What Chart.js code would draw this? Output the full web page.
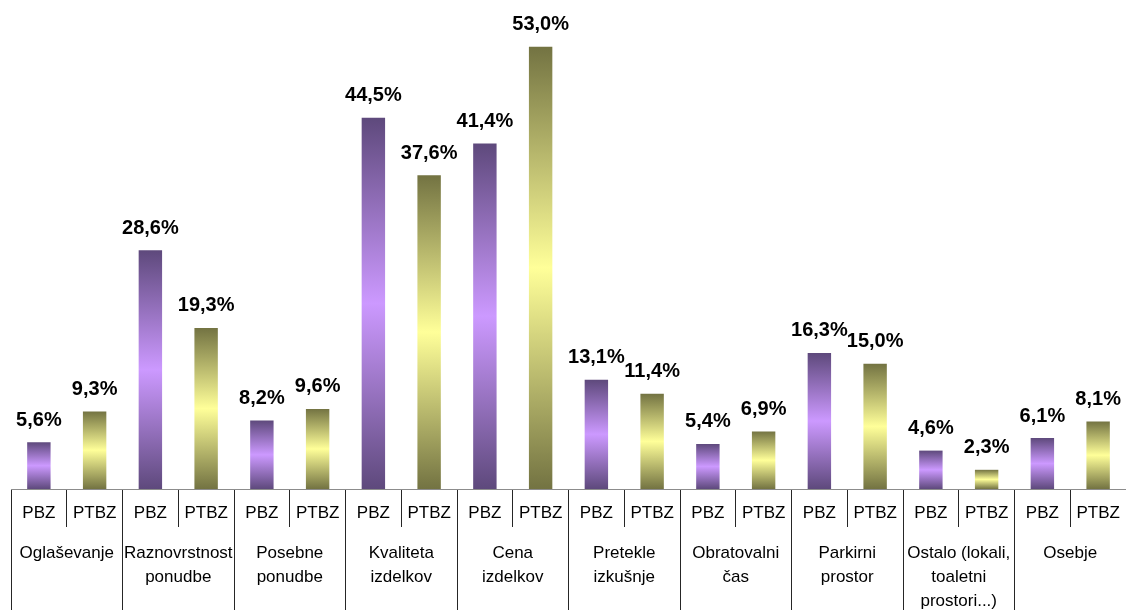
<!DOCTYPE html>
<html>
<head>
<meta charset="utf-8">
<script src="https://cdn.jsdelivr.net/npm/chart.js@4"></script>
<style>
  html, body { margin: 0; padding: 0; background: #ffffff; }
  #wrap { width: 1126px; height: 610px; }
</style>
</head>
<body>
<div id="wrap"><canvas id="chart" width="1126" height="610"></canvas></div>
<script>
// Categories (multi-line labels for the lower axis row)
const categories = [
  ['Oglaševanje'],
  ['Raznovrstnost', 'ponudbe'],
  ['Posebne', 'ponudbe'],
  ['Kvaliteta', 'izdelkov'],
  ['Cena', 'izdelkov'],
  ['Pretekle', 'izkušnje'],
  ['Obratovalni', 'čas'],
  ['Parkirni', 'prostor'],
  ['Ostalo (lokali,', 'toaletni', 'prostori...)'],
  ['Osebje']
];

// Series names, also used as the upper axis row
const seriesNames = ['PBZ', 'PTBZ'];

// Shares in percent
const pbzValues  = [5.6, 28.6, 8.2, 44.5, 41.4, 13.1, 5.4, 16.3, 4.6, 6.1];
const ptbzValues = [9.3, 19.3, 9.6, 37.6, 53.0, 11.4, 6.9, 15.0, 2.3, 8.1];

// Sub-category labels: one per bar, in group order
const subLabels = categories.flatMap(() => seriesNames);

// Vertical dark-light-dark gradient over each bar's own height
function barGradient(dark, light) {
  return (ctx) => {
    const chart = ctx.chart;
    const area = chart.chartArea;
    if (!area || ctx.raw === undefined) return light;
    const y = chart.scales.y;
    const top = y.getPixelForValue(ctx.raw);
    const base = y.getPixelForValue(0);
    if (!isFinite(top) || !isFinite(base) || base - top < 1) return dark;
    const g = chart.ctx.createLinearGradient(0, top, 0, base);
    g.addColorStop(0, dark);
    g.addColorStop(0.5, light);
    g.addColorStop(1, dark);
    return g;
  };
}

// Percentage labels above each bar
const valueLabels = {
  id: 'valueLabels',
  afterDatasetsDraw(chart) {
    const c = chart.ctx;
    c.save();
    c.font = 'bold 20px "Liberation Sans", Arial, sans-serif';
    c.fillStyle = '#000000';
    c.textAlign = 'center';
    c.textBaseline = 'middle';
    chart.data.datasets.forEach((ds, di) => {
      const meta = chart.getDatasetMeta(di);
      meta.data.forEach((bar, i) => {
        const v = ds.data[i];
        const txt = v.toFixed(1).replace('.', ',') + '%';
        c.fillText(txt, bar.x, bar.y - 22);
      });
    });
    c.restore();
  }
};

const tickFont = { family: '"Liberation Sans", Arial, sans-serif', size: 17 };

new Chart(document.getElementById('chart'), {
  type: 'bar',
  data: {
    labels: categories,
    datasets: [
      {
        label: seriesNames[0],
        data: pbzValues,
        xAxisID: 'x',
        yAxisID: 'y',
        backgroundColor: barGradient('#5e497c', '#cc99ff'),
        borderWidth: 0,
        categoryPercentage: 1.0,
        barPercentage: 0.42
      },
      {
        label: seriesNames[1],
        data: ptbzValues,
        xAxisID: 'x',
        yAxisID: 'y',
        backgroundColor: barGradient('#737342', '#ffff99'),
        borderWidth: 0,
        categoryPercentage: 1.0,
        barPercentage: 0.42
      }
    ]
  },
  options: {
    responsive: false,
    animation: false,
    layout: { padding: { left: 11, right: -2, top: 0, bottom: 0 } },
    plugins: {
      legend: { display: false },
      tooltip: { enabled: false }
    },
    scales: {
      x: {
        type: 'category',
        position: 'bottom',
        weight: 1,
        offset: true,
        grid: {
          offset: true,
          drawOnChartArea: false,
          drawTicks: true,
          tickLength: 83,
          color: '#262626',
          lineWidth: 1
        },
        border: { display: false },
        ticks: {
          autoSkip: false,
          maxRotation: 0,
          minRotation: 0,
          padding: -69,
          color: '#000000',
          font: Object.assign({}, tickFont, { lineHeight: 1.41 })
        },
        afterFit(scale) { scale.height = 83; }
      },
      xSub: {
        type: 'category',
        position: 'bottom',
        weight: 0,
        labels: subLabels,
        offset: true,
        grid: {
          offset: true,
          drawOnChartArea: false,
          drawTicks: true,
          tickLength: 38,
          color: '#262626',
          lineWidth: 1
        },
        border: { display: true, color: '#8c8c8c', width: 1 },
        ticks: {
          autoSkip: false,
          maxRotation: 0,
          minRotation: 0,
          padding: -24,
          color: '#000000',
          font: tickFont
        },
        afterFit(scale) { scale.height = 38; }
      },
      y: {
        display: false,
        min: 0,
        max: 58.6
      }
    }
  },
  plugins: [valueLabels]
});
</script>
</body>
</html>
